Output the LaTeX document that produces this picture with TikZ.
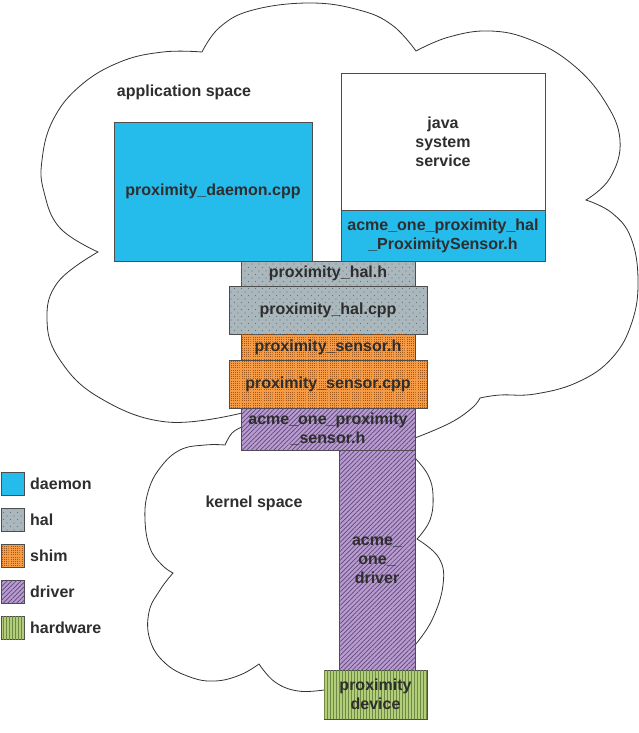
\documentclass[tikz,border=0pt]{standalone}
\usepackage{fontspec}
\setmainfont{Liberation Sans}
\usetikzlibrary{patterns,patterns.meta}
\definecolor{daemoncol}{HTML}{25BBEA}
\definecolor{halcol}{HTML}{AAB7BD}
\definecolor{haldot}{HTML}{66757C}
\definecolor{shimcol}{HTML}{F59A45}
\definecolor{shimdot}{HTML}{A0581A}
\definecolor{drvcol}{HTML}{B89BD2}
\definecolor{drvline}{HTML}{5E4872}
\definecolor{hwcol}{HTML}{B2CE7A}
\definecolor{hwline}{HTML}{6F8A45}
\definecolor{edgecol}{HTML}{4D4D4D}
\definecolor{txtcol}{HTML}{2E2E2E}
\definecolor{cloudcol}{HTML}{333333}
\tikzdeclarepattern{name=haldots, type=uncolored,
  bounding box={(-1pt,-1pt) and (8pt,8pt)}, tile size={(7pt,7pt)},
  code={\fill (0pt,0pt) circle (0.55pt); \fill (3.5pt,3.5pt) circle (0.55pt);}}
\tikzdeclarepattern{name=shimdots, type=uncolored,
  bounding box={(-0.5pt,-0.5pt) and (2.5pt,2.5pt)}, tile size={(2.2pt,2.2pt)},
  code={\fill (-0.45pt,-0.45pt) rectangle (0.45pt,0.45pt);}}
\tikzset{
 txtfont/.style={font=\bfseries\fontsize{16}{19}\selectfont},
 bx/.style={draw=edgecol, line width=0.9pt, inner sep=0pt, outer sep=0pt, align=center, text=txtcol, txtfont},
 daemonfill/.style={fill=daemoncol},
 halfill/.style={fill=halcol, postaction={pattern=haldots, pattern color=haldot}},
 shimfill/.style={fill=shimcol, postaction={pattern=shimdots, pattern color=shimdot}},
 drvfill/.style={fill=drvcol, postaction={pattern={Lines[angle=45,distance=3.2pt,line width=0.7pt]}, pattern color=drvline}},
 hwfill/.style={fill=hwcol, postaction={pattern={Lines[angle=90,distance=3pt,line width=0.9pt]}, pattern color=hwline}},
 cloudline/.style={draw=cloudcol, line width=0.8pt, line join=miter},
 lbl/.style={text=txtcol, txtfont, inner sep=0pt},
 keybox/.style={draw=edgecol, line width=0.9pt, minimum width=23pt, minimum height=23pt, inner sep=0pt},
}
\begin{document}
\begin{tikzpicture}[x=1pt,y=-1pt]
\fill[white] (0,0) rectangle (639,733);
\useasboundingbox (0,0) rectangle (639,733);

% application space cloud
\draw[cloudline]
 plot[smooth, tension=0.7] coordinates {(242,413) (167,422) (100,398) (60,360) (47,320) (58,282) (98,252)}
 -- plot[smooth, tension=0.7] coordinates {(98,252) (60,228) (44,192) (42,160) (53,120) (80,86) (120,62) (163,52) (202,52)}
 -- plot[smooth, tension=0.7] coordinates {(202,52) (220,27) (253,10) (310,3) (359,10) (392,25) (416,51)}
 -- plot[smooth, tension=0.7] coordinates {(416,51) (449,37) (490,31) (531,40) (572,64) (604,100) (620,140) (610,178) (586,200)}
 -- plot[smooth, tension=0.7] coordinates {(586,200) (612,213) (631,238) (638,280) (632,322) (612,358) (578,382) (535,394) (500,395) (480,398)}
 -- plot[smooth, tension=0.7] coordinates {(480,398) (472,408) (450,423) (415,438)}
 -- (242,413);

% kernel space cloud
\draw[cloudline]
 plot[smooth, tension=0.7] coordinates {(242,427) (232,433) (225,445)}
 -- plot[smooth, tension=0.7] coordinates {(225,445) (205,445) (180,450) (160,468) (148,492) (145,520) (150,548) (162,565) (173,573)}
 -- plot[smooth, tension=0.7] coordinates {(173,573) (160,590) (149,612) (150,640) (165,663) (190,677) (215,681) (240,675) (259,664)}
 -- plot[smooth, tension=0.7] coordinates {(259,664) (275,682) (298,691) (324,690)}
 -- (380,690) -- (415,645)
 -- plot[smooth, tension=0.7] coordinates {(415,645) (432,620) (443,585) (439,558) (417,539)}
 -- plot[smooth, tension=0.7] coordinates {(417,539) (430,520) (433,495) (428,475) (415,458)}
 -- (380,445) -- (242,427);

\node[lbl] (appspace) at (184,92) {application space};
\node[lbl] (kernspace) at (254,503) {kernel space};

% boxes
\node[bx, daemonfill, minimum width=198pt, minimum height=139pt] (daemon) at (213,191.5) {proximity\_daemon.cpp};
\node[bx, fill=white, minimum width=204pt, minimum height=137pt] (java) at (443,141.5) {java\\system\\service};
\node[bx, daemonfill, minimum width=204pt, minimum height=51pt] (javahal) at (443,235.5) {acme\_one\_proximity\_hal\\\_ProximitySensor.h};
\node[bx, halfill, minimum width=174pt, minimum height=25pt] (halh) at (328,273.5) {proximity\_hal.h};
\node[bx, halfill, minimum width=198pt, minimum height=48pt] (halcpp) at (328,310) {proximity\_hal.cpp};
\node[bx, shimfill, minimum width=174pt, minimum height=26pt] (senh) at (328,347) {proximity\_sensor.h};
\node[bx, shimfill, minimum width=198pt, minimum height=48pt] (sencpp) at (328,384) {proximity\_sensor.cpp};
\node[bx, drvfill, minimum width=76pt, minimum height=220pt] (driver) at (377,560) {acme\_\\one\_\\driver};
\node[bx, drvfill, minimum width=174pt, minimum height=42pt] (acmesen) at (328,429) {acme\_one\_proximity\\\_sensor.h};
\node[bx, hwfill, minimum width=103pt, minimum height=49pt] (device) at (375.5,694.5) {proximity\\device};

% legend
\node[keybox, daemonfill] (kd) at (12.5,484) {};
\node[lbl, anchor=west] (kdl) at (30,484) {daemon};
\node[keybox, halfill] (kh) at (12.5,519.5) {};
\node[lbl, anchor=west] (khl) at (30,519.5) {hal};
\node[keybox, shimfill] (ks) at (12.5,555.5) {};
\node[lbl, anchor=west] (ksl) at (30,555.5) {shim};
\node[keybox, drvfill] (kdr) at (12.5,591.5) {};
\node[lbl, anchor=west] (kdrl) at (30,591.5) {driver};
\node[keybox, hwfill] (kw) at (12.5,628) {};
\node[lbl, anchor=west] (kwl) at (30,628) {hardware};
\end{tikzpicture}
\end{document}
